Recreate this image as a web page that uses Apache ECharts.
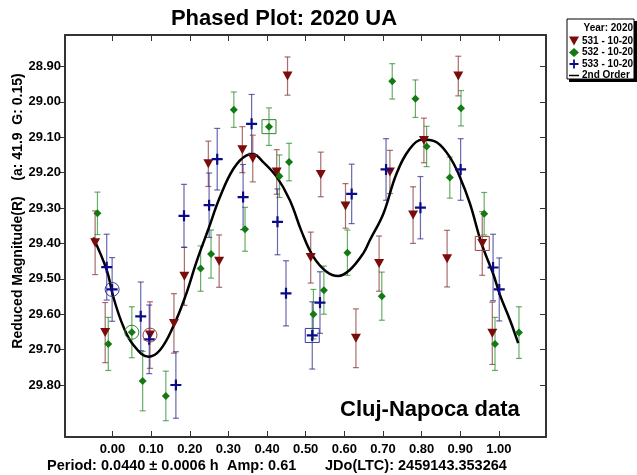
<!DOCTYPE html>
<html>
<head>
<meta charset="utf-8">
<script src="https://cdn.jsdelivr.net/npm/echarts@6/dist/echarts.min.js"></script>
<style>
  html, body { margin: 0; padding: 0; background: #fff; }
  #main { width: 637px; height: 475px; }
</style>
</head>
<body>
<div id="main"></div>
<script>
// session 531 (red triangles)
var phase531 = [-0.045, -0.019, 0.097, 0.159, 0.186, 0.248, 0.276, 0.336, 0.363, 0.425, 0.453, 0.513,
  0.539, 0.603, 0.630, 0.690, 0.718, 0.778, 0.806, 0.866, 0.895, 0.957, 0.983];
var mag531 = [29.398, 29.652, 29.659, 29.626, 29.493, 29.175, 29.450, 29.135, 29.160, 29.198, 28.927, 29.440,
  29.205, 29.294, 29.668, 29.457, 29.198, 29.320, 29.109, 29.443, 28.927, 29.400, 29.654];
var err531 = [0.090, 0.085, 0.094, 0.084, 0.082, 0.064, 0.074, 0.065, 0.066, 0.063, 0.054, 0.072,
  0.063, 0.063, 0.083, 0.078, 0.061, 0.080, 0.063, 0.080, 0.056, 0.090, 0.088];

// session 532 (green diamonds)
var phase532 = [-0.039, -0.011, 0.050, 0.078, 0.138, 0.228, 0.255, 0.314, 0.343, 0.405, 0.432, 0.457,
  0.520, 0.547, 0.608, 0.697, 0.724, 0.784, 0.813, 0.873, 0.902, 0.962, 0.990, 1.052];
var mag532 = [29.315, 29.684, 29.651, 29.789, 29.831, 29.471, 29.430, 29.022, 29.360, 29.070, 29.210, 29.170,
  29.600, 29.532, 29.426, 29.549, 28.942, 28.991, 29.126, 29.214, 29.018, 29.316, 29.684, 29.652];
var err532 = [0.060, 0.075, 0.072, 0.084, 0.070, 0.064, 0.068, 0.050, 0.062, 0.053, 0.060, 0.053,
  0.070, 0.068, 0.064, 0.068, 0.050, 0.053, 0.057, 0.058, 0.050, 0.060, 0.075, 0.073];

// session 533 (blue crosses)
var phase533 = [-0.015, -0.001, 0.073, 0.095, 0.164, 0.185, 0.250, 0.271, 0.338, 0.360, 0.427, 0.449,
  0.517, 0.537, 0.619, 0.708, 0.797, 0.901, 0.985, 1.001];
var mag533 = [29.467, 29.530, 29.606, 29.671, 29.800, 29.322, 29.292, 29.162, 29.269, 29.062, 29.339, 29.541,
  29.660, 29.567, 29.260, 29.191, 29.299, 29.191, 29.468, 29.530];
var err533 = [0.093, 0.090, 0.097, 0.097, 0.094, 0.089, 0.091, 0.087, 0.092, 0.083, 0.093, 0.092,
  0.095, 0.087, 0.084, 0.087, 0.088, 0.087, 0.094, 0.089];

// points marked with a ring / a box (index into the arrays above)
var ring531 = 2, ring532 = 2, ring533 = 1;
var box531 = 21, box532 = 9, box533 = 12;

// 2nd order fit
var fitPhase = [-0.050, -0.015, 0.002, 0.028, 0.054, 0.093, 0.123, 0.157, 0.188, 0.218, 0.248, 0.278,
  0.313, 0.347, 0.364, 0.390, 0.425, 0.459, 0.490, 0.520, 0.554, 0.584, 0.614, 0.649, 0.666, 0.701,
  0.735, 0.770, 0.804, 0.839, 0.873, 0.899, 0.925, 0.955, 0.985, 1.003, 1.029, 1.050];
var fitMag = [29.383, 29.475, 29.551, 29.635, 29.687, 29.720, 29.701, 29.635, 29.551, 29.450, 29.360, 29.269,
  29.189, 29.151, 29.148, 29.170, 29.212, 29.278, 29.368, 29.438, 29.480, 29.492, 29.475, 29.428, 29.391, 29.316,
  29.203, 29.132, 29.106, 29.114, 29.156, 29.212, 29.287, 29.400, 29.485, 29.546, 29.617, 29.682];

var xTicks = [0, 0.1, 0.2, 0.3, 0.4, 0.5, 0.6, 0.7, 0.8, 0.9, 1.0];
var yTicks = [28.9, 29.0, 29.1, 29.2, 29.3, 29.4, 29.5, 29.6, 29.7, 29.8];

var FONT = 'Arial, "Liberation Sans", sans-serif';
var triPath = 'path://M0,0L10,0L5,9Z';
var plusPath = 'path://M4,0H6V4H10V6H6V10H4V6H0V4H4Z';
var linePath = 'path://M0,0H20V3H0Z';

function pts(p, m) {
  var out = [];
  for (var i = 0; i < p.length; i++) out.push([p[i], m[i]]);
  return out;
}
function bars(p, m, e) {
  var out = [];
  for (var i = 0; i < p.length; i++) out.push([p[i], m[i] - e[i], m[i] + e[i]]);
  return out;
}
function errorSeries(name, data, color) {
  return {
    name: name + ' err',
    type: 'custom',
    z: 2,
    silent: true,
    data: data,
    encode: { x: 0, y: [1, 2] },
    renderItem: function (params, api) {
      var x = api.value(0);
      var a = api.coord([x, api.value(1)]);
      var b = api.coord([x, api.value(2)]);
      var st = { stroke: color, lineWidth: 1.2 };
      return {
        type: 'group',
        children: [
          { type: 'line', shape: { x1: a[0], y1: a[1], x2: b[0], y2: b[1] }, style: st },
          { type: 'line', shape: { x1: a[0] - 3, y1: a[1], x2: a[0] + 3, y2: a[1] }, style: st },
          { type: 'line', shape: { x1: b[0] - 3, y1: b[1], x2: b[0] + 3, y2: b[1] }, style: st }
        ]
      };
    }
  };
}
function label(text, x, y, size, rot) {
  return {
    type: 'text', x: x, y: y, rotation: rot || 0,
    style: { text: text, align: rot ? 'center' : 'left', verticalAlign: 'middle', fill: '#000', font: 'bold ' + size + 'px ' + FONT }
  };
}

var chart = echarts.init(document.getElementById('main'));
var option = {
  animation: false,
  backgroundColor: '#fff',
  title: {
    text: 'Phased Plot: 2020 UA',
    left: 279,
    top: 3,
    textAlign: 'center',
    textStyle: { fontFamily: FONT, fontWeight: 'bold', fontSize: 22, color: '#000' }
  },
  grid: { left: 65, top: 35, right: 91, bottom: 38 },
  legend: {
    orient: 'vertical',
    left: 569,
    top: 36,
    itemWidth: 10,
    itemHeight: 9,
    itemGap: 1.5,
    padding: 0,
    textStyle: { fontFamily: FONT, fontWeight: 'bold', fontSize: 10, color: '#000', padding: [0, 0, 0, -2] },
    data: [
      { name: '531 - 10-20', icon: triPath },
      { name: '532 - 10-20', icon: 'diamond' },
      { name: '533 - 10-20', icon: plusPath },
      { name: '2nd Order', icon: linePath }
    ]
  },
  xAxis: [{
    type: 'value', min: -0.123, max: 1.122, position: 'bottom',
    axisLine: { show: true, onZero: false, lineStyle: { color: '#333', width: 2 } },
    axisTick: { show: true, inside: true, length: 6, customValues: xTicks, lineStyle: { color: '#333' } },
    axisLabel: {
      customValues: xTicks, margin: 6, color: '#000', fontFamily: FONT, fontWeight: 'bold', fontSize: 13,
      formatter: function (v) { return v.toFixed(2); }
    },
    splitLine: { show: false }
  }, {
    type: 'value', min: -0.123, max: 1.122, position: 'top',
    axisLine: { show: true, onZero: false, lineStyle: { color: '#333', width: 2 } },
    axisTick: { show: true, inside: true, length: 6, customValues: xTicks, lineStyle: { color: '#333' } },
    axisLabel: { show: false },
    splitLine: { show: false }
  }],
  yAxis: [{
    type: 'value', inverse: true, min: 28.811, max: 29.947, position: 'left',
    axisLine: { show: true, onZero: false, lineStyle: { color: '#333', width: 2 } },
    axisTick: { show: true, inside: false, length: 6, customValues: yTicks, lineStyle: { color: '#333' } },
    axisLabel: {
      customValues: yTicks, margin: 4, color: '#000', fontFamily: FONT, fontWeight: 'bold', fontSize: 13,
      formatter: function (v) { return v.toFixed(2); }
    },
    splitLine: { show: false }
  }, {
    type: 'value', inverse: true, min: 28.811, max: 29.947, position: 'right',
    axisLine: { show: true, onZero: false, lineStyle: { color: '#333', width: 2 } },
    axisTick: { show: true, inside: true, length: 6, customValues: yTicks, lineStyle: { color: '#333' } },
    axisLabel: { show: false },
    splitLine: { show: false }
  }],
  series: [
    errorSeries('531', bars(phase531, mag531, err531), 'rgba(140,60,60,0.75)'),
    errorSeries('532', bars(phase532, mag532, err532), 'rgba(40,140,40,0.7)'),
    errorSeries('533', bars(phase533, mag533, err533), 'rgba(40,40,140,0.7)'),
    {
      name: '2nd Order', type: 'line', smooth: 0.4, showSymbol: false, symbol: 'none', z: 3,
      data: pts(fitPhase, fitMag), lineStyle: { color: '#000', width: 2.5 }, itemStyle: { color: '#000' }
    },
    {
      name: '531 - 10-20', type: 'scatter', symbol: triPath, symbolSize: [10, 9], z: 4,
      data: pts(phase531, mag531), itemStyle: { color: '#7a0c0c', opacity: 1 }
    },
    {
      name: '532 - 10-20', type: 'scatter', symbol: 'diamond', symbolSize: 8, z: 4,
      data: pts(phase532, mag532), itemStyle: { color: '#137a13', opacity: 1 }
    },
    {
      name: '533 - 10-20', type: 'scatter', symbol: plusPath, symbolSize: 11, z: 4,
      data: pts(phase533, mag533), itemStyle: { color: '#0b0b8a', opacity: 1 }
    },
    {
      name: 'rings', type: 'scatter', symbol: 'circle', symbolSize: 14, z: 5, silent: true,
      data: [
        { value: [phase531[ring531], mag531[ring531]], itemStyle: { borderColor: '#9a4040' } },
        { value: [phase532[ring532], mag532[ring532]], itemStyle: { borderColor: '#2a8a2a' } },
        { value: [phase533[ring533], mag533[ring533]], itemStyle: { borderColor: '#3a3a9a' } }
      ],
      itemStyle: { color: 'rgba(0,0,0,0)', borderWidth: 1, opacity: 1 }
    },
    {
      name: 'boxes', type: 'scatter', symbol: 'rect', symbolSize: 14, z: 5, silent: true,
      data: [
        { value: [phase531[box531], mag531[box531]], itemStyle: { borderColor: '#9a4040' } },
        { value: [phase532[box532], mag532[box532]], itemStyle: { borderColor: '#2a8a2a' } },
        { value: [phase533[box533], mag533[box533]], itemStyle: { borderColor: '#3a3a9a' } }
      ],
      itemStyle: { color: 'rgba(0,0,0,0)', borderWidth: 1, opacity: 1 }
    }
  ],
  graphic: [
    { type: 'rect', z: 0, shape: { x: 569, y: 21, width: 68, height: 61 }, style: { fill: '#000' } },
    { type: 'rect', z: 1, shape: { x: 567, y: 19, width: 67, height: 60 }, style: { fill: '#fff', stroke: '#000', lineWidth: 1 } },
    {
      type: 'text', z: 2, x: 633, y: 28,
      style: { text: 'Year: 2020', align: 'right', verticalAlign: 'middle', fill: '#000', font: 'bold 10px ' + FONT }
    },
    label('Reduced Magnitude(R)    (a: 41.9  G: 0.15)', 18, 211, 14, Math.PI / 2),
    label('Cluj-Napoca data', 340, 410, 22),
    label('Period: 0.0440 \u00b1 0.0006 h', 47, 466, 14.5),
    label('Amp: 0.61', 227, 466, 14.5),
    label('JDo(LTC): 2459143.353264', 325, 466, 14.5)
  ]
};
chart.setOption(option);
</script>
</body>
</html>
